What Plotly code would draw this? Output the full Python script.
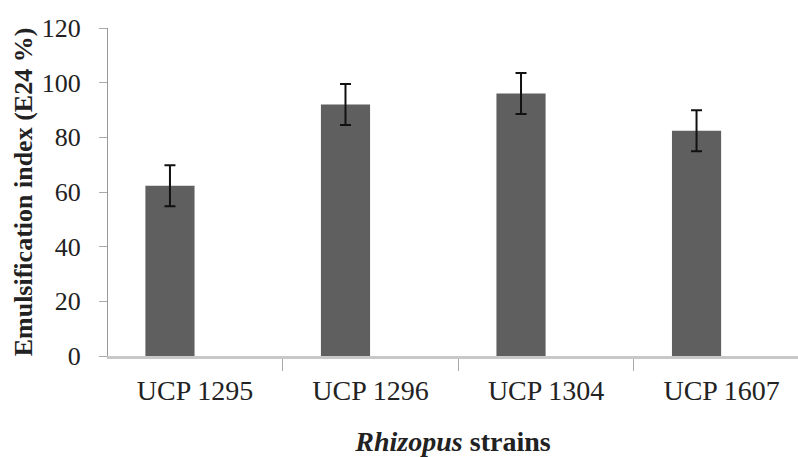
import plotly.graph_objects as go

strains = ["UCP 1295", "UCP 1296", "UCP 1304", "UCP 1607"]
e24_values = [62.3, 92.0, 96.0, 82.4]
e24_errors = [7.5, 7.5, 7.5, 7.5]
y_ticks = [0, 20, 40, 60, 80, 100, 120]

positions = list(range(len(strains)))
label_offset = 0.143
label_pos = [p + label_offset for p in positions]
boundary_pos = [p - 0.357 for p in positions]

FONT = "Liberation Serif"

fig = go.Figure()
fig.add_trace(go.Bar(
    x=positions, y=e24_values, width=0.28,
    marker=dict(color="#5f5f5f", line=dict(width=0)),
    error_y=dict(type="data", array=e24_errors, visible=True,
                 color="#111111", thickness=2, width=5.5),
    showlegend=False,
))

fig.update_layout(
    width=798, height=457,
    margin=dict(l=108, r=0, t=28, b=101),
    paper_bgcolor="white", plot_bgcolor="white",
    font=dict(family=FONT, color="#222222"),
    xaxis=dict(
        range=[-0.353, 3.578], showgrid=False, zeroline=False,
        showline=True, linecolor="#c8c8c8", linewidth=3,
        tickmode="array", tickvals=label_pos, ticktext=strains,
        ticks="", tickfont=dict(size=28, family=FONT, color="#222222"),
        ticklabelstandoff=7,
        minor=dict(tickmode="array", tickvals=boundary_pos, ticks="outside",
                   ticklen=12, tickcolor="#aaaaaa", tickwidth=1),
        title=dict(text="<b><i>Rhizopus</i> strains</b>",
                   font=dict(size=28, family=FONT, color="#222222"), standoff=27),
        automargin=False,
    ),
    yaxis=dict(
        range=[0, 120], showgrid=False, zeroline=False,
        showline=True, linecolor="#999999", linewidth=1,
        tickmode="array", tickvals=y_ticks,
        ticks="outside", ticklen=8, tickcolor="#aaaaaa", tickwidth=1,
        tickfont=dict(size=26, family=FONT, color="#222222"),
        ticklabelstandoff=13,
        title=dict(text="<b>Emulsification index (E24 %)</b>",
                   font=dict(size=26, family=FONT, color="#222222"), standoff=1),
        automargin=False,
    ),
    bargap=0.5,
)

fig.write_html("out.html", config={"displayModeBar": False},
               post_script="document.body.style.margin='0';")
